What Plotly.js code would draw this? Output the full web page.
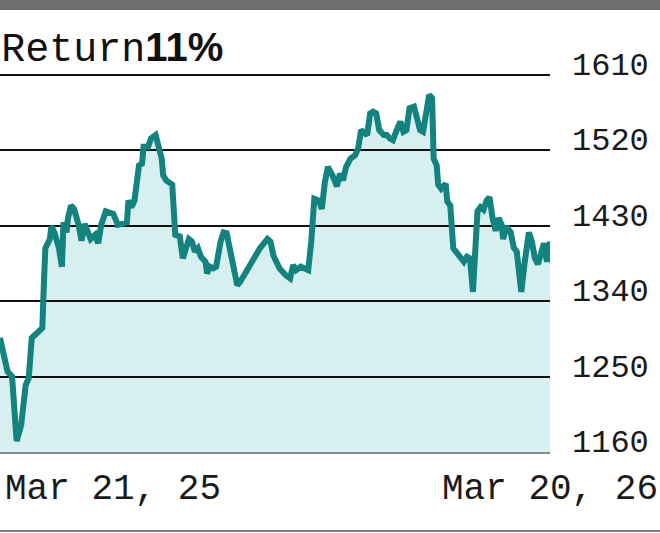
<!DOCTYPE html>
<html>
<head>
<meta charset="utf-8">
<script src="https://cdn.plot.ly/plotly-3.0.1.min.js"></script>
<style>
html,body{margin:0;padding:0;background:#fff;}
#wrap{position:relative;width:660px;height:533px;overflow:hidden;}
#chart{width:660px;height:533px;}
#topbar{position:absolute;left:0;top:0;width:660px;height:10px;background:#6e6e6e;}
#botline{position:absolute;left:0;top:530px;width:660px;height:2px;background:#7d7d7d;}
</style>
</head>
<body>
<div id="wrap">
<div id="chart"></div>
<div id="topbar"></div>
<div id="botline"></div>
</div>
<script>
const dates = [
'2025-03-21','2025-03-23','2025-03-24','2025-03-26','2025-03-29','2025-03-31','2025-04-01','2025-04-04','2025-04-07','2025-04-09',
'2025-04-11','2025-04-14','2025-04-18','2025-04-19','2025-04-20','2025-04-23','2025-04-24','2025-04-26','2025-04-29','2025-05-01',
'2025-05-02','2025-05-04','2025-05-05','2025-05-07','2025-05-09','2025-05-12','2025-05-14','2025-05-16','2025-05-18','2025-05-20',
'2025-05-23','2025-05-25','2025-05-27','2025-05-30','2025-06-04','2025-06-07','2025-06-10','2025-06-13','2025-06-14','2025-06-16',
'2025-06-18','2025-06-21','2025-06-23','2025-06-24','2025-06-27','2025-06-29','2025-07-02','2025-07-04','2025-07-06','2025-07-07',
'2025-07-09','2025-07-13','2025-07-15','2025-07-18','2025-07-20','2025-07-24','2025-07-26','2025-07-28','2025-07-30','2025-08-01',
'2025-08-04','2025-08-05','2025-08-07','2025-08-09','2025-08-11','2025-08-14','2025-08-16','2025-08-18','2025-08-20','2025-08-22',
'2025-08-25','2025-08-27','2025-08-29','2025-08-31','2025-09-02','2025-09-06','2025-09-09','2025-09-14','2025-09-16','2025-09-18',
'2025-09-20','2025-09-22','2025-09-26','2025-09-29','2025-10-01','2025-10-03','2025-10-06','2025-10-09','2025-10-11','2025-10-13',
'2025-10-15','2025-10-18','2025-10-20','2025-10-22','2025-10-24','2025-10-27','2025-10-30','2025-11-01','2025-11-03','2025-11-05',
'2025-11-08','2025-11-11','2025-11-13','2025-11-15','2025-11-19','2025-11-21','2025-11-23','2025-11-25','2025-11-27','2025-11-30',
'2025-12-02','2025-12-04','2025-12-06','2025-12-09','2025-12-11','2025-12-13','2025-12-15','2025-12-17','2025-12-20','2025-12-22',
'2025-12-24','2025-12-26','2025-12-28','2025-12-30','2026-01-01','2026-01-02','2026-01-04','2026-01-05','2026-01-07','2026-01-10',
'2026-01-11','2026-01-13','2026-01-15','2026-01-17','2026-01-19','2026-01-22','2026-01-24','2026-01-26','2026-01-28','2026-01-29',
'2026-01-31','2026-02-02','2026-02-04','2026-02-06','2026-02-08','2026-02-10','2026-02-12','2026-02-14','2026-02-16','2026-02-17',
'2026-02-19','2026-02-22','2026-02-24','2026-02-26','2026-03-01','2026-03-03','2026-03-06','2026-03-08','2026-03-10','2026-03-12',
'2026-03-16','2026-03-18','2026-03-20'
];
const values = [
1296,1279,1278,1256,1250,1174,1173,1192,1240,1248,
1296,1301,1308,1359,1403,1414,1429,1422,1403,1381,
1434,1422,1439,1454,1450,1431,1412,1432,1422,1414,
1419,1409,1431,1447,1444,1431,1432,1434,1460,1452,
1460,1502,1504,1524,1524,1534,1538,1520,1510,1490,
1484,1479,1419,1417,1391,1414,1411,1399,1403,1393,
1387,1373,1381,1379,1381,1411,1422,1421,1403,1379,
1359,1363,1369,1374,1379,1391,1403,1414,1411,1394,
1387,1379,1371,1367,1383,1377,1381,1379,1377,1411,
1462,1460,1450,1482,1500,1490,1477,1492,1484,1500,
1510,1514,1522,1544,1538,1564,1566,1564,1544,1538,
1538,1534,1532,1546,1554,1542,1544,1570,1572,1558,
1544,1542,1570,1586,1582,1510,1502,1479,1474,1480,
1459,1454,1403,1399,1394,1387,1393,1391,1351,1383,
1447,1452,1449,1460,1464,1439,1424,1439,1431,1414,
1429,1422,1404,1399,1351,1383,1422,1411,1391,1384,
1409,1387,1411
];
const tickVals = [1160,1250,1340,1430,1520,1610];
const startLabel = 'Mar 21, 25';
const endLabel = 'Mar 20, 26';
const titleWord = 'Return';
const returnPct = '11%';

const mono = 'Liberation Mono, DejaVu Sans Mono, monospace';
const yRange = [1160, 1675.3];
const xRange = [dates[0], dates[dates.length-1]];

// area fill (bottom subplot, below the gridlines)
const fillTrace = {
  x: dates, y: values, type: 'scatter', mode: 'lines',
  fill: 'tozeroy', fillcolor: 'rgb(216,239,240)',
  line: {color: 'rgba(0,0,0,0)', width: 0},
  xaxis: 'x', yaxis: 'y', hoverinfo: 'skip'
};
// line (top subplot, above the gridlines)
const lineTrace = {
  x: dates, y: values, type: 'scatter', mode: 'lines',
  line: {color: 'rgb(18,131,126)', width: 6},
  xaxis: 'x2', yaxis: 'y2', hoverinfo: 'skip'
};

const layout = {
  width: 660, height: 533,
  margin: {l: 0, r: 110, t: 20, b: 81.3, pad: 0},
  paper_bgcolor: 'rgba(0,0,0,0)', plot_bgcolor: 'rgba(0,0,0,0)',
  showlegend: false,
  title: {
    text: titleWord + '<b><span style="font-family:Liberation Sans,Arial,sans-serif">' + returnPct + '</span></b>',
    font: {family: mono, size: 40, color: '#111'},
    xref: 'container', yref: 'container',
    x: 0.002, xanchor: 'left', y: 1 - 47/533, yanchor: 'middle'
  },
  xaxis: {
    type: 'date', range: xRange, anchor: 'y', domain: [0, 1],
    showgrid: false, zeroline: false, showticklabels: false, ticks: '', showline: false
  },
  yaxis: {
    range: yRange, anchor: 'x', domain: [0, 1],
    showgrid: false, zeroline: false, showticklabels: false, ticks: '', showline: false
  },
  xaxis2: {
    type: 'date', range: xRange, anchor: 'y2', domain: [0, 1],
    showgrid: false, zeroline: false, showticklabels: false, ticks: '',
    showline: true, linecolor: '#8a8a8a', linewidth: 2
  },
  yaxis2: {
    side: 'right', range: yRange, anchor: 'x2', domain: [0, 1],
    tickvals: tickVals, ticktext: tickVals.map(String),
    showgrid: true, gridcolor: '#111', gridwidth: 2,
    zeroline: false, showline: false, ticks: '',
    ticklabelshift: -11, ticklabelstandoff: 21,
    tickfont: {family: mono, size: 32, color: '#1a1a1a'}
  },
  annotations: [
    {text: startLabel, xref: 'paper', yref: 'paper', x: 0.005, xanchor: 'left',
     y: (451.7-489)/431.7, yanchor: 'middle', showarrow: false,
     font: {family: mono, size: 36, color: '#1a1a1a'}},
    {text: endLabel, xref: 'paper', yref: 'paper', x: 660/550, xanchor: 'right',
     y: (451.7-489)/431.7, yanchor: 'middle', showarrow: false,
     font: {family: mono, size: 36, color: '#1a1a1a'}}
  ]
};

Plotly.newPlot('chart', [fillTrace, lineTrace], layout, {staticPlot: true, displayModeBar: false});
</script>
</body>
</html>
